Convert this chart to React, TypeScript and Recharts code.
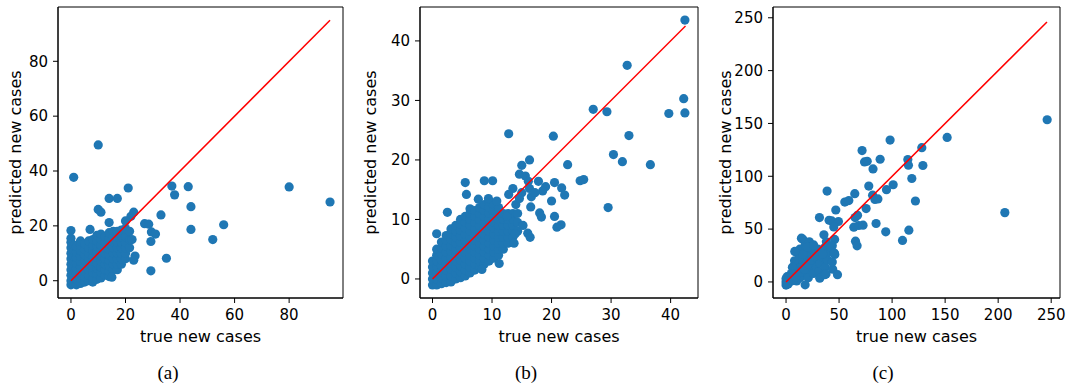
import React from "react";
import { ReferenceArea, Scatter, ScatterChart, XAxis, YAxis } from "recharts";

type Pt = [number, number];

// (a) dense blob near the origin, read column by column
const aBlob: Pt[] = [
  [0, -1.5], [0, 0], [0, 2], [0, 4], [0, 6], [0, 8], [0, 10], [0, 12], [0, 14], [0, 15.5],
  [1, -1], [1, 1], [1, 3], [1, 5], [1, 7], [1, 9], [1, 11], [1, 13],
  [2, -1.5], [2, 0.5], [2, 2.5], [2, 4.5], [2, 6.5], [2, 8.5], [2, 10.5], [2, 12.5],
  [3.5, -1], [3.5, 1], [3.5, 3], [3.5, 5], [3.5, 7], [3.5, 9], [3.5, 11], [3.5, 13], [3.5, 14.5],
  [5, -0.5], [5, 1.5], [5, 3.5], [5, 5.5], [5, 7.5], [5, 9.5], [5, 11.5], [5, 13.5],
  [6.5, 0], [6.5, 2], [6.5, 4], [6.5, 6], [6.5, 8], [6.5, 10], [6.5, 12], [6.5, 14.5],
  [8, -0.5], [8, 1], [8, 3], [8, 5], [8, 7], [8, 9], [8, 11], [8, 13], [8, 15],
  [9.5, 0.5], [9.5, 2.5], [9.5, 4.5], [9.5, 6.5], [9.5, 8.5], [9.5, 10.5], [9.5, 12.5], [9.5, 14.5], [9.5, 16.5],
  [11, 1], [11, 3], [11, 5], [11, 7], [11, 9], [11, 11], [11, 13], [11, 15], [11, 17],
  [12.5, 2], [12.5, 4], [12.5, 6], [12.5, 8], [12.5, 10], [12.5, 12], [12.5, 14], [12.5, 16],
  [14, 1.5], [14, 3.5], [14, 5.5], [14, 7.5], [14, 9.5], [14, 11.5], [14, 13.5], [14, 15.5], [14, 17.5],
  [15.5, 4], [15.5, 6], [15.5, 8], [15.5, 10], [15.5, 12], [15.5, 14], [15.5, 16], [15.5, 18],
  [17, 4], [17, 6], [17, 8], [17, 10], [17, 12], [17, 14], [17, 16], [17, 18],
  [18.5, 6], [18.5, 8], [18.5, 10], [18.5, 12], [18.5, 14], [18.5, 16], [18.5, 18.5],
  [20, 8], [20, 10], [20, 12], [20, 14], [20, 16], [20, 19], [21.5, 12], [21.5, 15], [21.5, 18],
];

const aOutliers: Pt[] = [
  [10, 49.5], [1, 37.7], [21, 33.8], [14, 30], [17, 30], [10, 26], [11, 25], [23, 25], [22, 23.5],
  [37, 34.5], [38, 31.3], [43, 34.3], [44, 27], [33, 24], [44, 18.7], [27, 20.8], [28.5, 20.6],
  [29.5, 17.8], [31, 17], [29.3, 14.3], [35, 8.2], [29.3, 3.6], [23.5, 9], [23, 7.5], [52, 15],
  [56, 20.4], [80, 34.2], [95, 28.7], [14, 21.2], [20, 21.8], [0, 18.3], [7, 18.7], [22.4, 15], [15, 1.3],
];

// (b) diagonal band plus scattered points
const bBlob: Pt[] = [
  [0, -1], [0, 0], [0, 1], [0, 2], [0, 3],
  [0.7, -1], [0.7, 0], [0.7, 1], [0.7, 2], [0.7, 3], [0.7, 4], [0.7, 5],
  [1.5, -0.8], [1.5, 0.2], [1.5, 1.2], [1.5, 2.2], [1.5, 3.2], [1.5, 4.2], [1.5, 5.2], [1.5, 6.2],
  [2.3, -0.6], [2.3, 0.5], [2.3, 1.5], [2.3, 2.5], [2.3, 3.5], [2.3, 4.5], [2.3, 5.5], [2.3, 6.5], [2.3, 7.3],
  [3.1, -0.5], [3.1, 0.5], [3.1, 1.6], [3.1, 2.6], [3.1, 3.6], [3.1, 4.6], [3.1, 5.6], [3.1, 6.6], [3.1, 7.6], [3.1, 8.4],
  [3.9, 0], [3.9, 1], [3.9, 2], [3.9, 3], [3.9, 4], [3.9, 5], [3.9, 6], [3.9, 7], [3.9, 8], [3.9, 9],
  [4.7, 0.2], [4.7, 1.2], [4.7, 2.2], [4.7, 3.2], [4.7, 4.2], [4.7, 5.2], [4.7, 6.2], [4.7, 7.2], [4.7, 8.2], [4.7, 9.2], [4.7, 10],
  [5.5, 0.5], [5.5, 1.5], [5.5, 2.5], [5.5, 3.5], [5.5, 4.5], [5.5, 5.5], [5.5, 6.5], [5.5, 7.5], [5.5, 8.5], [5.5, 9.5], [5.5, 10.5],
  [6.3, 1], [6.3, 2], [6.3, 3], [6.3, 4], [6.3, 5], [6.3, 6], [6.3, 7], [6.3, 8], [6.3, 9], [6.3, 10], [6.3, 11], [6.3, 11.8],
  [7.1, 1.5], [7.1, 2.5], [7.1, 3.5], [7.1, 4.5], [7.1, 5.5], [7.1, 6.5], [7.1, 7.5], [7.1, 8.5], [7.1, 9.5], [7.1, 10.5], [7.1, 11.5],
  [7.9, 2], [7.9, 3], [7.9, 4], [7.9, 5], [7.9, 6], [7.9, 7], [7.9, 8], [7.9, 9], [7.9, 10], [7.9, 11], [7.9, 12],
  [8.7, 2.5], [8.7, 3.5], [8.7, 4.5], [8.7, 5.5], [8.7, 6.5], [8.7, 7.5], [8.7, 8.5], [8.7, 9.5], [8.7, 10.5], [8.7, 11.5], [8.7, 12.5],
  [9.5, 3], [9.5, 4], [9.5, 5], [9.5, 6], [9.5, 7], [9.5, 8], [9.5, 9], [9.5, 10], [9.5, 11], [9.5, 12], [9.5, 13],
  [10.3, 3.5], [10.3, 4.5], [10.3, 5.5], [10.3, 6.5], [10.3, 7.5], [10.3, 8.5], [10.3, 9.5], [10.3, 10.5], [10.3, 11.5], [10.3, 12.5],
  [11.1, 4], [11.1, 5], [11.1, 6], [11.1, 7], [11.1, 8], [11.1, 9], [11.1, 10], [11.1, 11], [11.1, 12],
  [11.9, 5], [11.9, 6], [11.9, 7], [11.9, 8], [11.9, 9], [11.9, 10], [11.9, 11],
  [12.7, 6], [12.7, 7], [12.7, 8], [12.7, 9], [12.7, 10], [12.7, 11],
  [13.5, 7], [13.5, 8], [13.5, 9], [13.5, 10], [13.5, 11], [14.3, 8], [14.3, 9.5], [14.3, 11],
];

const bOutliers: Pt[] = [
  [42.4, 43.5], [32.7, 35.9], [27, 28.5], [29.3, 28.1], [42.2, 30.3], [39.7, 27.8], [42.4, 27.9],
  [33, 24.1], [12.8, 24.4], [20.3, 24], [30.4, 20.9], [31.9, 19.7], [36.6, 19.2], [22.7, 19.2],
  [24.8, 16.5], [25.4, 16.7], [29.5, 12], [15, 19.1], [16.3, 20], [5.5, 16.2], [5.7, 14.2],
  [2.5, 11.2], [0.7, 7.6], [8.3, 1.6], [11.2, 2.6], [20.5, 10.5], [21.6, 9.1], [20.9, 8.7],
  [20.5, 16.2], [21.7, 15.3], [22.2, 14.1], [20, 13.1], [18, 11.1], [18.3, 10.4], [16.5, 12.1],
  [15.2, 9], [16, 7.7], [16.4, 7], [13.9, 7.6], [13.7, 6], [17.8, 16.4], [16.3, 15.2], [16.6, 13.8],
  [14.6, 17.6], [15.6, 17.3], [16.1, 16.4], [8.7, 16.5], [10.1, 16.5], [7.7, 13.4], [9.4, 13.5],
  [10.8, 13.1], [13.5, 15.2], [12.8, 14.2], [14, 12.5], [19, 15.5], [18.5, 14.8], [17.2, 14.5],
  [12.5, 10.5], [15, 14.5], [14.6, 13.5],
];

// (c) cluster near the origin plus spread points
const cCluster: Pt[] = [
  [0, -3], [0, 0], [0, 3], [1, 5], [2, -2], [3, 2], [4, 6], [5, 1], [6, 4], [7, 8], [8, 3],
  [9, 10], [10, 6], [10, 1], [11, 13], [12, 8], [13, 4], [14, 18], [15, 11], [16, 6], [17, 22],
  [18, 14], [19, 9], [20, 28], [20, 19], [21, 4], [22, 24], [23, 13], [24, 33], [25, 19],
  [26, 8], [27, 28], [28, 15], [29, 22], [30, 31], [31, 10], [31.8, 3.5], [32, 18], [34, 24], [36.5, 6.9],
  [36, 32], [37, 14], [38, 38], [39, 21], [40, 28], [42, 33], [44, 12], [46, 26],
  [10, 28], [12, 22], [13, 31], [16, 26], [8, 20], [8.2, 28.9], [6, 14], [15.8, 40.5], [22, 38],
  [25, 31], [28, 28], [22.4, 32.7], [5, 8], [3, 4], [2, 1], [1, -1], [7, 2], [9, 5], [13, 9],
  [17, 12], [19, 16], [21, 17], [24, 21], [27, 24], [31, 29], [18, 35], [20, 33], [26, 35], [34.6, 26.4],
];

const cOutliers: Pt[] = [
  [246.2, 153.5], [206.3, 65.6], [151.9, 136.8], [98.1, 134.3], [71.7, 124.3], [74, 113.6],
  [76.5, 114.2], [82, 107], [88.7, 116.1], [114.8, 115.8], [115.4, 110.5], [128, 127.1],
  [129, 110.2], [118.6, 97.9], [122, 76.6], [101, 92], [94.7, 87.3], [78, 90.7], [81.6, 82.1],
  [83.8, 78], [86.6, 78.6], [75.5, 69.4], [84.9, 55.3], [94, 47.4], [109.8, 39.3], [115.8, 49],
  [64.8, 83.5], [55.4, 75.6], [59.2, 77], [38.7, 86], [46.9, 68.1], [31.5, 60.9], [40.6, 58.4],
  [43.1, 57.7], [49.4, 57.2], [45, 52.1], [65.1, 60.9], [67.4, 63], [63.9, 51.8], [68.6, 53.4],
  [72.6, 53.7], [65.5, 38.6], [67, 34.2], [35.7, 44.6], [45.8, 40.2], [43.6, 34.2], [45.5, 27.3],
  [43.6, 18.9], [48.5, 6.9], [37.7, 7.5], [14.5, 41.4], [18, -2.7],
];

const aTicks = [0, 20, 40, 60, 80];
const bTicks = [0, 10, 20, 30, 40];
const cTicks = [0, 50, 100, 150, 200, 250];

// end of the y = x reference line (largest true value) per panel
const aLineEnd = 95;
const bLineEnd = 42.5;
const cLineEnd = 246;

const BLUE = "#1f77b4";
const FONT = "'DejaVu Sans', sans-serif";

const Dot = (p: any) => <circle cx={p.cx} cy={p.cy} r={4.6} fill={BLUE} />;
const NoDot = () => null;

interface PanelProps {
  left: number;
  width: number;
  yAxisWidth: number;
  right: number;
  points: Pt[];
  xDomain: [number, number];
  yDomain: [number, number];
  ticks: number[];
  lineEnd: number;
  caption: string;
  captionX: number;
}

function Panel(p: PanelProps) {
  const rows = p.points.map(([x, y]) => ({ x, y }));
  const diag = [{ x: 0, y: 0 }, { x: p.lineEnd, y: p.lineEnd }];
  const tickStyle = { fill: "#000", fontSize: 15, fontFamily: FONT };
  return (
    <>
      <div style={{ position: "absolute", left: p.left, top: 0 }}>
        <ScatterChart
          width={p.width}
          height={345}
          margin={{ top: 7, right: p.right, bottom: 0, left: 0 }}
        >
          <XAxis
            type="number"
            dataKey="x"
            domain={p.xDomain}
            ticks={p.ticks}
            interval={0}
            allowDataOverflow
            height={47}
            stroke="#000"
            tickSize={5}
            tickMargin={6}
            tick={tickStyle}
            label={{ value: "true new cases", position: "insideBottom", offset: 3, fill: "#000", fontSize: 16, fontFamily: FONT }}
          />
          <YAxis
            type="number"
            dataKey="y"
            domain={p.yDomain}
            ticks={p.ticks}
            interval={0}
            allowDataOverflow
            width={p.yAxisWidth}
            stroke="#000"
            tickSize={5}
            tickMargin={5}
            tick={tickStyle}
            label={{
              value: "predicted new cases",
              angle: -90,
              position: "insideLeft",
              offset: 15,
              fill: "#000",
              fontSize: 16,
              fontFamily: FONT,
              style: { textAnchor: "middle" },
            }}
          />
          <ReferenceArea
            x1={p.xDomain[0]}
            x2={p.xDomain[1]}
            y1={p.yDomain[0]}
            y2={p.yDomain[1]}
            fill="none"
            fillOpacity={0}
            stroke="#000"
            strokeWidth={1}
          />
          <Scatter data={rows} fill={BLUE} shape={Dot} isAnimationActive={false} />
          <Scatter
            data={diag}
            shape={NoDot}
            line={{ stroke: "#ff0000", strokeWidth: 1.5 }}
            isAnimationActive={false}
          />
        </ScatterChart>
      </div>
      <div
        style={{
          position: "absolute",
          left: p.captionX - 50,
          top: 363,
          width: 100,
          textAlign: "center",
          fontFamily: "'Liberation Serif', serif",
          fontSize: 19,
          lineHeight: "19px",
          color: "#000",
        }}
      >
        {p.caption}
      </div>
    </>
  );
}

export default function App() {
  return (
    <div
      style={{
        position: "absolute",
        left: 0,
        top: 0,
        width: 1071,
        height: 390,
        background: "#fff",
        fontFamily: FONT,
        overflow: "hidden",
      }}
    >
      <Panel
        left={0}
        width={355}
        yAxisWidth={58}
        right={12}
        points={[...aBlob, ...aOutliers]}
        xDomain={[-4.75, 99.75]}
        yDomain={[-6.3, 99.8]}
        ticks={aTicks}
        lineEnd={aLineEnd}
        caption="(a)"
        captionX={168}
      />
      <Panel
        left={355}
        width={355}
        yAxisWidth={65}
        right={12}
        points={[...bBlob, ...bOutliers]}
        xDomain={[-2.1, 44.6]}
        yDomain={[-3.2, 45.7]}
        ticks={bTicks}
        lineEnd={bLineEnd}
        caption="(b)"
        captionX={526}
      />
      <Panel
        left={710}
        width={361}
        yAxisWidth={63}
        right={11}
        points={[...cCluster, ...cOutliers]}
        xDomain={[-12.3, 258.3]}
        yDomain={[-15.2, 260.2]}
        ticks={cTicks}
        lineEnd={cLineEnd}
        caption="(c)"
        captionX={883}
      />
    </div>
  );
}
